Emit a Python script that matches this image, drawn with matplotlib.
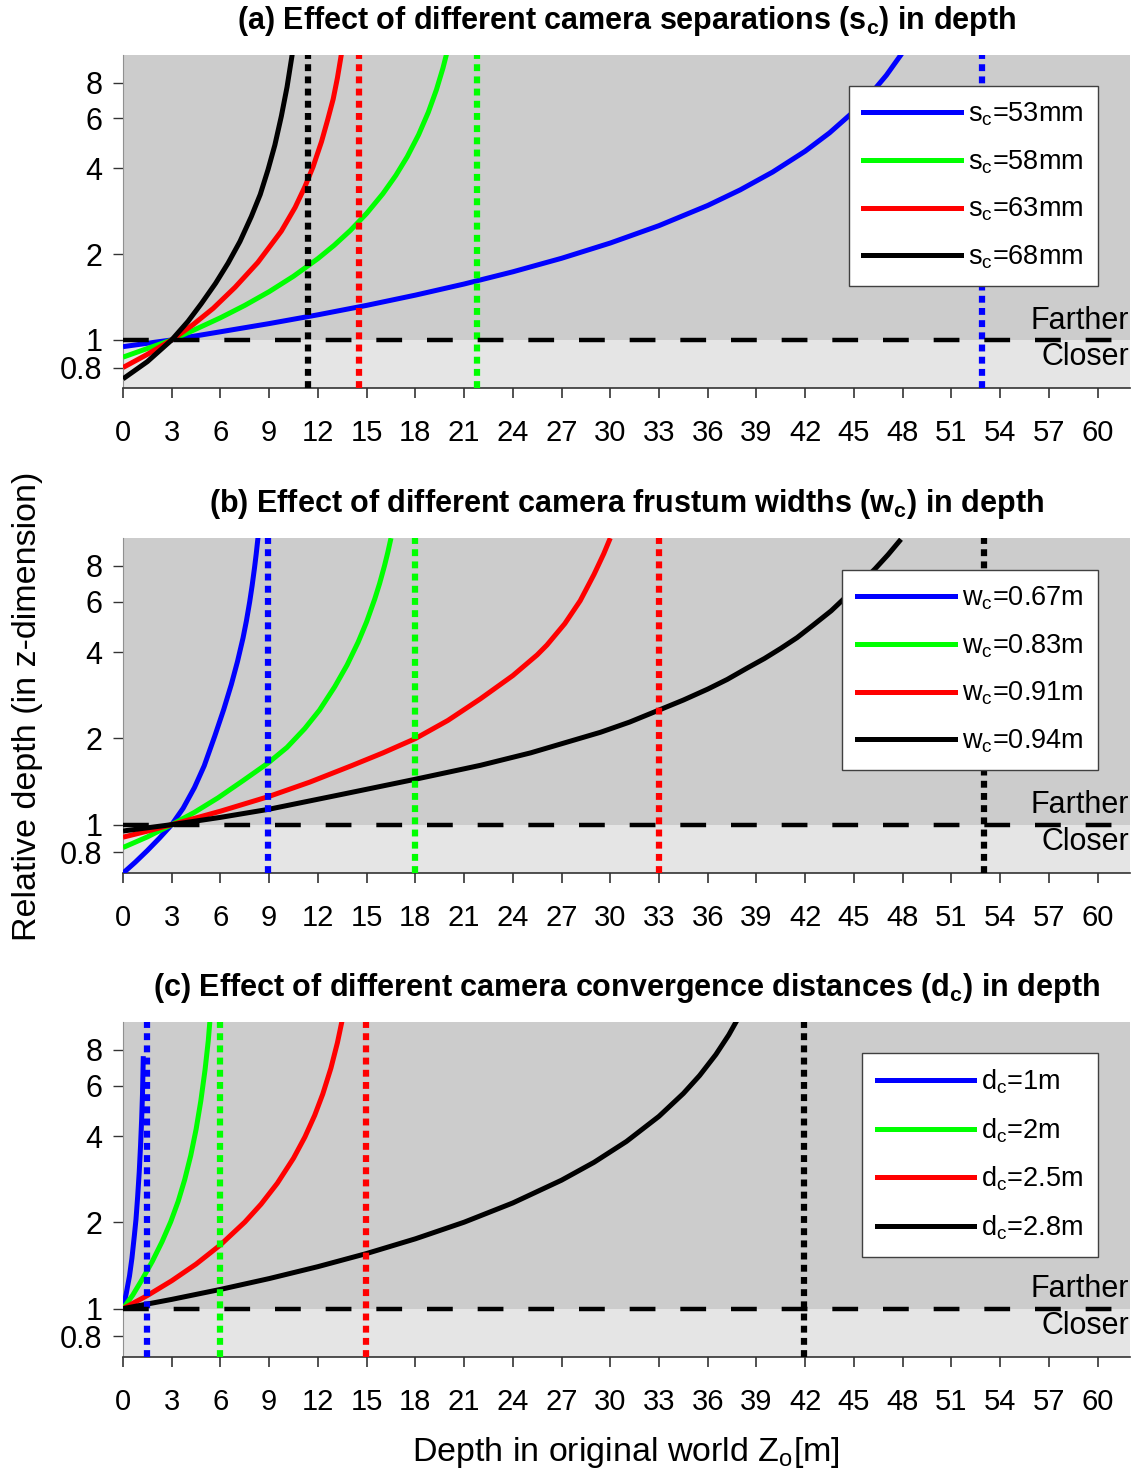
import matplotlib
matplotlib.use("Agg")
import matplotlib.pyplot as plt
from matplotlib.lines import Line2D

plt.rcParams['font.family'] = ['Liberation Sans', 'DejaVu Sans']
plt.rcParams['mathtext.fontset'] = 'custom'
plt.rcParams['mathtext.rm'] = 'Liberation Sans'
plt.rcParams['mathtext.it'] = 'Liberation Sans'
plt.rcParams['mathtext.bf'] = 'Liberation Sans:bold'

# ---------------- data ----------------
colors = ['#0000ff', '#00ff00', '#ff0000', '#000000']

# (a) camera separations
a_labels = ['53mm', '58mm', '63mm', '68mm']
a_blue_x = [0, 3, 6, 9, 12, 15, 18, 21, 24, 27, 30, 33, 36, 38, 40, 42, 43.5, 45, 46, 47, 47.9, 48.3]
a_blue_y = [0.947, 1.0, 1.068, 1.141, 1.225, 1.322, 1.436, 1.571, 1.734, 1.934, 2.188, 2.518,
            2.964, 3.362, 3.884, 4.596, 5.33, 6.34, 7.26, 8.49, 10.02, 10.9]
a_green_x = [0, 1.5, 3, 4.5, 6, 7.5, 9, 10.5, 12, 13, 14, 15, 16, 16.8, 17.5, 18.2, 18.8, 19.3, 19.7, 20.0]
a_green_y = [0.87, 0.933, 1.0, 1.092, 1.196, 1.322, 1.477, 1.673, 1.929, 2.148, 2.423, 2.779,
             3.259, 3.78, 4.395, 5.25, 6.3, 7.56, 9.0, 10.5]
a_red_x = [0, 1.5, 3, 4.3, 5.55, 6.9, 8.3, 9.75, 10.6, 11.2, 11.7, 12.22, 12.6, 12.94, 13.2, 13.45, 13.6]
a_red_y = [0.80, 0.89, 1.0, 1.13, 1.29, 1.53, 1.87, 2.41, 2.92, 3.45, 4.05, 4.96, 5.92, 7.0, 8.3, 10.1, 11.8]
a_black_x = [0, 1.5, 3, 4.0, 4.82, 5.7, 6.47, 7.2, 7.9, 8.45, 8.93, 9.35, 9.75, 10.1, 10.4, 10.55]
a_black_y = [0.73, 0.839, 1.0, 1.161, 1.34, 1.58, 1.86, 2.215, 2.71, 3.24, 3.96, 4.83, 6.1, 7.72, 9.9, 11.3]
a_limits = [52.9, 21.8, 14.55, 11.37]

# (b) frustum widths
b_labels = ['0.67m', '0.83m', '0.91m', '0.94m']
b_blue_x = [0, 0.75, 1.5, 2.25, 3, 3.7, 4.4, 5.0, 5.65, 6.2, 6.67, 7.05, 7.39, 7.6, 7.8, 7.95, 8.1, 8.2, 8.32]
b_blue_y = [0.677, 0.739, 0.812, 0.898, 1.0, 1.14, 1.347, 1.604, 2.037, 2.521, 3.084, 3.709,
            4.479, 5.145, 5.99, 6.82, 7.89, 8.78, 10.13]
b_green_x = [0, 1.5, 3, 4.4, 5.85, 7.4, 8.93, 10.1, 11.19, 12.1, 13.04, 13.8, 14.48, 15.0, 15.5,
             15.8, 16.1, 16.3, 16.5]
b_green_y = [0.832, 0.906, 1.0, 1.104, 1.24, 1.425, 1.64, 1.86, 2.163, 2.509, 3.03, 3.608, 4.335,
             5.1, 6.126, 6.94, 8.0, 8.89, 9.99]
b_red_x = [0, 1.5, 3, 6, 8.93, 11.5, 14.1, 16, 18, 20, 22, 24, 25.5, 26.1, 27.2, 28.15, 29.0, 29.6, 30.0]
b_red_y = [0.904, 0.949, 1.0, 1.114, 1.251, 1.407, 1.608, 1.779, 1.996, 2.309, 2.746, 3.311, 3.91,
           4.231, 5.025, 6.042, 7.464, 8.815, 9.99]
b_black_x = [0, 3, 6, 8.93, 13.5, 18, 22, 25.1, 29.4, 31.2, 33, 34.5, 36, 37.2, 38.4, 39.5, 40.5,
             41.5, 42.5, 43.6, 44.6, 45.5, 46.3, 47.1, 47.9]
b_black_y = [0.95, 1.0, 1.06, 1.13, 1.276, 1.44, 1.61, 1.78, 2.10, 2.28, 2.51, 2.72, 2.97, 3.21,
             3.51, 3.80, 4.12, 4.49, 4.97, 5.57, 6.3, 7.03, 7.8, 8.74, 9.9]
b_limits = [8.93, 17.95, 33.0, 53.0]

# (c) convergence distances
c_labels = ['1m', '2m', '2.5m', '2.8m']
c_blue_x = [0, 0.2, 0.4, 0.55, 0.7, 0.8, 0.9, 1.0, 1.08, 1.15, 1.2, 1.25]
c_blue_y = [1.0, 1.13, 1.3, 1.5, 1.8, 2.05, 2.45, 3.0, 3.7, 4.6, 5.6, 7.6]
c_green_x = [0, 0.6, 1.2, 1.8, 2.4, 2.94, 3.4, 3.8, 4.17, 4.5, 4.79, 5.05, 5.25, 5.4]
c_green_y = [1.0, 1.115, 1.27, 1.46, 1.71, 2.01, 2.37, 2.82, 3.42, 4.22, 5.3, 6.8, 8.6, 10.9]
c_red_x = [0, 1.5, 3, 4.5, 6, 7.5, 8.5, 9.5, 10.5, 11.2, 11.8, 12.3, 12.8, 13.2, 13.5, 13.8]
c_red_y = [1.0, 1.111, 1.251, 1.43, 1.669, 2.004, 2.314, 2.737, 3.349, 3.971, 4.722, 5.607,
           6.899, 8.458, 10.18, 12.79]
c_black_x = [0, 3, 6, 9, 12, 15, 18, 21, 24, 27, 29, 31, 33, 34.5, 35.5, 36.5, 37.3, 38.0]
c_black_y = [1.0, 1.077, 1.167, 1.273, 1.401, 1.557, 1.752, 2.002, 2.337, 2.806, 3.239, 3.831,
             4.687, 5.631, 6.504, 7.697, 9.02, 10.62]
c_limits = [1.46, 5.95, 14.97, 41.95]

x_ticks = list(range(0, 61, 3))
y_ticks = [0.8, 1, 2, 4, 6, 8]
y_ticklabels = ['0.8', '1', '2', '4', '6', '8']

titles = [r'(a) Effect of different camera separations ($\mathbf{s_c}$) in depth',
          r'(b) Effect of different camera frustum widths ($\mathbf{w_c}$) in depth',
          r'(c) Effect of different camera convergence distances ($\mathbf{d_c}$) in depth']
sym = ['s', 'w', 'd']

panels = [
    ([(a_blue_x, a_blue_y), (a_green_x, a_green_y), (a_red_x, a_red_y), (a_black_x, a_black_y)], a_limits, a_labels),
    ([(b_blue_x, b_blue_y), (b_green_x, b_green_y), (b_red_x, b_red_y), (b_black_x, b_black_y)], b_limits, b_labels),
    ([(c_blue_x, c_blue_y), (c_green_x, c_green_y), (c_red_x, c_red_y), (c_black_x, c_black_y)], c_limits, c_labels),
]

# ---------------- figure ----------------
W, H = 1142, 1471
fig = plt.figure(figsize=(W / 100, H / 100), dpi=100)

ax_boxes = [(55, 388), (538, 873), (1022, 1357)]
left_px, right_px = 123, 1130
leg_tops = [86, 570, 1053]

YMIN, YMAX = 0.678, 10.0
lw_curve = 3.6

for i, ((curves, limits, labels), (top, bot)) in enumerate(zip(panels, ax_boxes)):
    ax = fig.add_axes([left_px / W, 1 - bot / H, (right_px - left_px) / W, (bot - top) / H])
    ax.set_yscale('log')
    ax.set_xlim(0, 62)
    ax.set_ylim(YMIN, YMAX)
    ax.set_facecolor('none')
    ax.axhspan(1, YMAX, color='#cccccc', zorder=0, lw=0)
    ax.axhspan(YMIN, 1, color='#e5e5e5', zorder=0, lw=0)

    for (xs, ys), col in zip(curves, colors):
        ax.plot(xs, ys, color=col, lw=lw_curve, zorder=3, solid_capstyle='butt',
                solid_joinstyle='round')
    for lim, col in zip(limits, colors):
        ax.axvline(lim, color=col, lw=4.5, linestyle=(0, (1.1, 0.85)), zorder=4)
    ax.axhline(1, color='black', lw=3.2, linestyle=(0, (5.8, 5.6)), zorder=5)

    ax.text(61.95, 1.035, 'Farther', ha='right', va='bottom', fontsize=22, zorder=6)
    ax.text(61.95, 0.985, 'Closer', ha='right', va='top', fontsize=22, zorder=6)

    ax.set_xticks(x_ticks)
    ax.set_xticklabels([str(t) for t in x_ticks])
    ax.set_yticks(y_ticks)
    ax.set_yticklabels(y_ticklabels)
    ax.minorticks_off()
    ax.tick_params(axis='x', labelsize=21, length=7, width=1.2, pad=15, color='#333333')
    ax.tick_params(axis='y', labelsize=22, length=7, width=1.0, pad=8, color='#333333')
    for s in ['top', 'right']:
        ax.spines[s].set_visible(False)
    ax.spines['left'].set_color('#909090')
    ax.spines['left'].set_linewidth(0.8)
    ax.spines['bottom'].set_color('#333333')
    ax.spines['bottom'].set_linewidth(1.2)

    ax.set_title(titles[i], fontsize=22, fontweight='bold', pad=19)

    handles = [Line2D([], [], color=c, lw=lw_curve) for c in colors]
    leg_labels = [r'$\mathregular{%s_c}$=%s' % (sym[i], l) for l in labels]
    leg = ax.legend(handles, leg_labels, loc='upper right',
                    bbox_to_anchor=((1098 - left_px) / (right_px - left_px),
                                    (bot - leg_tops[i]) / (bot - top)),
                    borderaxespad=0, fontsize=19.5, handlelength=3.6, handletextpad=0.25,
                    labelspacing=0.74, borderpad=0.55, fancybox=False, framealpha=1,
                    edgecolor='#404040')
    leg.get_frame().set_linewidth(1.0)
    leg.set_zorder(10)

fig.text(28 / W, 1 - 706 / H, 'Relative depth (in z-dimension)', rotation=90,
         ha='center', va='center', fontsize=24.5)
fig.text(626 / W, 1 - 1461 / H, r'Depth in original world $\mathregular{Z_o}$[m]',
         ha='center', va='baseline', fontsize=24.5)

fig.savefig('out.png', dpi=100)
